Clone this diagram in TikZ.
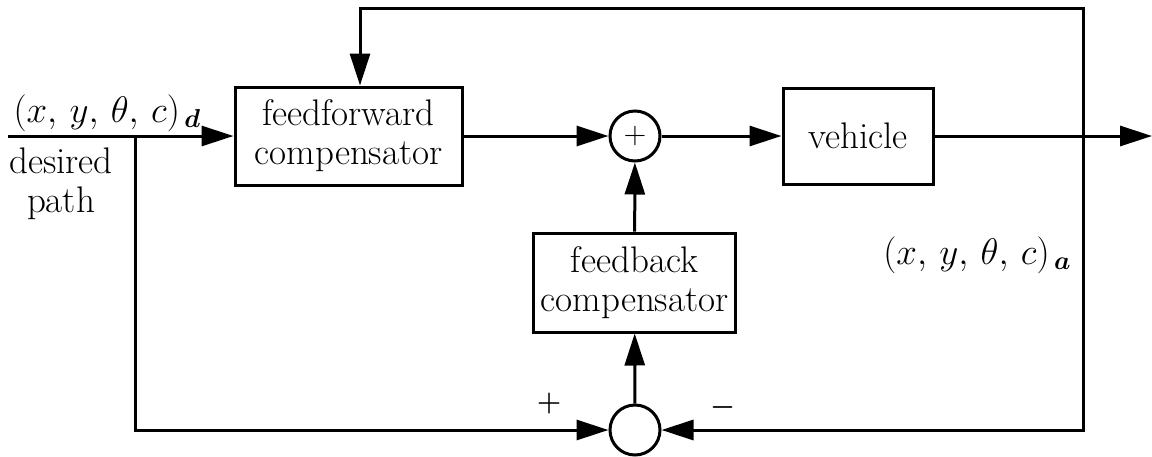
\RequirePackage{fix-cm}
\documentclass[tikz,border=0pt]{standalone}
\usepackage{amsmath}
\usepackage{fontspec}
\usetikzlibrary{arrows.meta}
\begin{document}
\begin{tikzpicture}[x=0.5pt,y=-0.5pt,line width=1.5pt,
  font=\fontsize{18.5}{19.5}\selectfont,
  >={Triangle[length=16pt,width=10pt]},
  block/.style={draw,rectangle,align=center,inner sep=1pt},
  sumnode/.style={draw,circle,minimum size=25pt,inner sep=0pt},
  signlabel/.style={font=\fontsize{14}{14}\selectfont,inner sep=0pt}]
\useasboundingbox (0,0) rectangle (1152,456);
% blocks
\node[block,minimum width=113.5pt,minimum height=49pt] (ff) at (348.5,136) {feedforward\\compensator};
\node[sumnode] (sumtop) at (635,136) {\fontsize{15}{15}\selectfont$+$};
\node[block,minimum width=75pt,minimum height=48pt] (veh) at (858,136) {vehicle};
\node[block,minimum width=101pt,minimum height=49.5pt] (fb) at (634.5,282.5) {feedback\\compensator};
\node[sumnode] (sumbot) at (635,430) {};
% free ends and branch points
\coordinate (in) at (8,136);
\coordinate (split) at (135,136);
\coordinate (tap) at (1083,136);
\coordinate (out) at (1152,136);
\coordinate (ffin) at (360,8);
% connectors
\draw[->] (in) -- (ff);
\draw[->] (ff) -- (sumtop);
\draw[->] (sumtop) -- (veh);
\draw[->] (veh) -- (out);
\draw[->] (tap) |- (ffin) -- (ffin |- ff.north);
\draw[->] (tap) |- (sumbot);
\draw[->] (split) |- (sumbot);
\draw[->] (sumbot) -- (fb);
\draw[->] (fb) -- (sumtop);
% labels
\node[anchor=base west,inner sep=0pt] (desired) at (12,122) {$(x,\,y,\,\theta,\,c)_{\,\boldsymbol{d}}$};
\node[anchor=north,align=center,inner sep=0pt] (pathlbl) at (61,146) {desired\\path};
\node[anchor=base east,inner sep=0pt] (actual) at (1073,264) {$(x,\,y,\,\theta,\,c)_{\,\boldsymbol{a}}$};
\node[signlabel] (plus) at (549,403) {$\boldsymbol{+}$};
\node[signlabel] (minus) at (723,407) {$\boldsymbol{-}$};
\end{tikzpicture}
\end{document}
